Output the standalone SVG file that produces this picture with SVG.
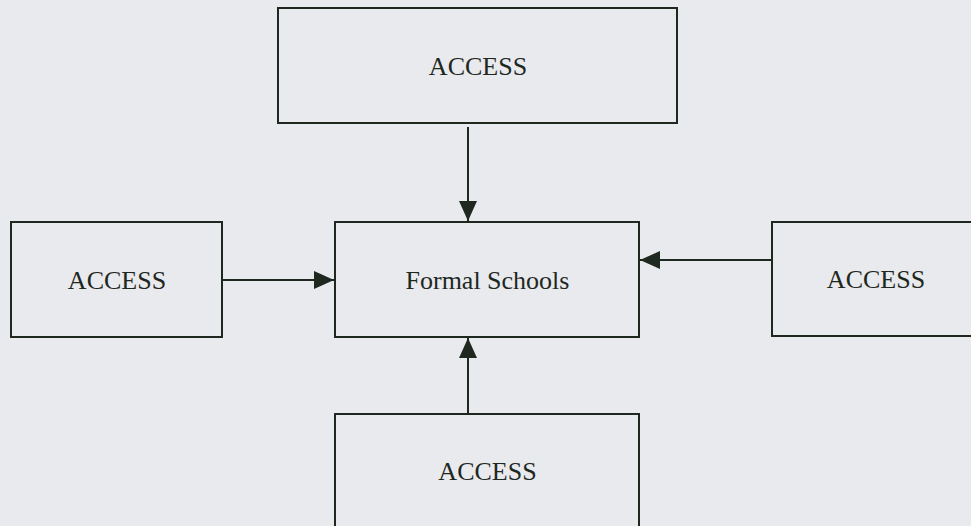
<svg xmlns="http://www.w3.org/2000/svg" width="971" height="526" viewBox="0 0 971 526">
  <style>
    .box { fill: none; stroke: #1e281f; stroke-width: 2; }
    .label { font-family: "Liberation Serif", "Times New Roman", serif; font-size: 26px; fill: #1e281f; text-anchor: middle; }
    .link { stroke: #1e281f; stroke-width: 2; fill: none; marker-end: url(#head); }
  </style>
  <defs>
    <marker id="head" viewBox="0 0 20 18" refX="20" refY="9" markerWidth="20" markerHeight="18" markerUnits="userSpaceOnUse" orient="auto">
      <path d="M0,0 L20,9 L0,18 Z" fill="#1e281f"/>
    </marker>
  </defs>
  <rect width="971" height="526" fill="#e9eaee"/>

  <g id="node-top">
    <rect class="box" x="278" y="8" width="399" height="115"/>
    <text class="label" x="478" y="75">ACCESS</text>
  </g>
  <g id="node-left">
    <rect class="box" x="11" y="222" width="211" height="115"/>
    <text class="label" x="117" y="289">ACCESS</text>
  </g>
  <g id="node-center">
    <rect class="box" x="335" y="222" width="304" height="115"/>
    <text class="label" x="487.5" y="289">Formal Schools</text>
  </g>
  <g id="node-right">
    <rect class="box" x="772" y="222" width="210" height="114"/>
    <text class="label" x="876" y="288">ACCESS</text>
  </g>
  <g id="node-bottom">
    <rect class="box" x="335" y="414" width="304" height="130"/>
    <text class="label" x="487.5" y="480">ACCESS</text>
  </g>

  <g id="connectors">
    <line class="link" x1="468" y1="127" x2="468" y2="221"/>
    <line class="link" x1="222" y1="280" x2="334" y2="280"/>
    <line class="link" x1="772" y1="260" x2="640" y2="260"/>
    <line class="link" x1="468" y1="414" x2="468" y2="338"/>
  </g>
</svg>
